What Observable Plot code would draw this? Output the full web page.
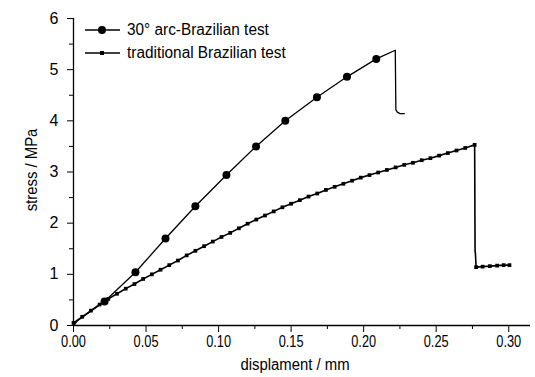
<!DOCTYPE html>
<html>
<head>
<meta charset="utf-8">
<script src="https://cdn.jsdelivr.net/npm/d3@7"></script>
<script src="https://cdn.jsdelivr.net/npm/@observablehq/plot@0.6"></script>
<style>
  html, body { margin: 0; padding: 0; background: #fff; }
  #wrap { position: relative; width: 535px; height: 377px; font-family: "Liberation Sans", Arial, sans-serif; }
  #legend { position: absolute; left: 84px; top: 18px; font-size: 16px; color: #000; line-height: 23px; }
  #legend .row { display: flex; align-items: center; height: 23px; white-space: nowrap; }
  #legend svg { margin-right: 5px; }
  #legend span { display: inline-block; transform: scaleX(0.96); transform-origin: 0 50%; }
</style>
</head>
<body>
<div id="wrap"></div>
<script>
// 30° arc-Brazilian test: full curve (incl. post-peak drop)
const arcX = [0, 0.003, 0.0214, 0.0427, 0.0634, 0.084, 0.1054, 0.1258, 0.146, 0.1678, 0.1885, 0.2087, 0.2218, 0.2222, 0.2232, 0.2250, 0.2280];
const arcY = [0, 0.10, 0.47, 1.04, 1.70, 2.33, 2.94, 3.50, 4.00, 4.46, 4.86, 5.21, 5.38, 4.22, 4.17, 4.14, 4.14];
// indices of the circle markers in the arc series
const arcMarkIdx = [2, 3, 4, 5, 6, 7, 8, 9, 10, 11];

// traditional Brazilian test (dense samples, each marked)
const tradX = [0, 0.006, 0.012, 0.018, 0.024, 0.030, 0.036, 0.042, 0.048, 0.054,
  0.060, 0.066, 0.072, 0.078, 0.084, 0.090, 0.096, 0.102, 0.108, 0.114,
  0.120, 0.126, 0.132, 0.138, 0.144, 0.150, 0.156, 0.162, 0.168, 0.174,
  0.180, 0.186, 0.192, 0.198, 0.204, 0.210, 0.216, 0.222, 0.228, 0.234,
  0.240, 0.246, 0.252, 0.258, 0.264, 0.270, 0.2765];
const tradY = [0.05, 0.17, 0.29, 0.41, 0.52, 0.62, 0.72, 0.81, 0.91, 1.00,
  1.09, 1.18, 1.27, 1.37, 1.46, 1.55, 1.64, 1.73, 1.81, 1.90,
  1.99, 2.07, 2.15, 2.23, 2.31, 2.38, 2.45, 2.52, 2.58, 2.65,
  2.71, 2.77, 2.83, 2.89, 2.94, 2.99, 3.04, 3.09, 3.14, 3.18,
  3.23, 3.27, 3.32, 3.37, 3.42, 3.47, 3.53];
// post-failure drop of the traditional test
const tradDropX = [0.2765, 0.2768, 0.2770, 0.2775];
const tradDropY = [3.53, 1.43, 1.43, 1.14];
// residual tail (marked)
const tradTailX = [0.2775, 0.2820, 0.2870, 0.2920, 0.2965, 0.3005];
const tradTailY = [1.14, 1.15, 1.16, 1.17, 1.18, 1.18];

const xTicks = [0, 0.05, 0.10, 0.15, 0.20, 0.25, 0.30];
const xMinor = [0.025, 0.075, 0.125, 0.175, 0.225, 0.275];
const yTicks = [0, 1, 2, 3, 4, 5, 6];
const yMinor = [0.5, 1.5, 2.5, 3.5, 4.5, 5.5];

const labels = ["30\u00B0 arc-Brazilian test", "traditional Brazilian test"];
const xLabel = "displament / mm";
const yLabel = "stress / MPa";

const arc = arcX.map((x, i) => ({x, y: arcY[i]}));
const arcMarks = arcMarkIdx.map(i => arc[i]);
const trad = tradX.map((x, i) => ({x, y: tradY[i]}));
const tradDrop = tradDropX.map((x, i) => ({x, y: tradDropY[i]}));
const tradTail = tradTailX.map((x, i) => ({x, y: tradTailY[i]}));
const tradLine = trad.concat(tradDrop.slice(1), tradTail.slice(1));

const font = '"Liberation Sans", Arial, sans-serif';

const chart = Plot.plot({
  width: 535,
  height: 377,
  marginLeft: 73,
  marginRight: 5,
  marginTop: 18,
  marginBottom: 52,
  style: {fontFamily: font, fontSize: "16px", color: "#000", background: "#fff"},
  x: {domain: [0, 0.315]},
  y: {domain: [0, 6]},
  marks: [
    Plot.axisX({ticks: xTicks, tickSize: 7, tickPadding: 3, tickFormat: d3.format(".2f"), label: null, fontSize: 16, className: "xticks"}),
    Plot.axisX({ticks: xMinor, tickSize: 4, tickFormat: () => "", label: null}),
    Plot.axisY({ticks: yTicks, tickSize: 6, tickPadding: 9, tickFormat: d3.format("d"), label: null, fontSize: 16}),
    Plot.axisY({ticks: yMinor, tickSize: 4, tickFormat: () => "", label: null}),
    Plot.ruleY([0], {stroke: "#000", strokeWidth: 1.3}),
    Plot.ruleX([0], {stroke: "#000", strokeWidth: 1.3}),
    Plot.line(tradLine, {x: "x", y: "y", stroke: "#000", strokeWidth: 1.6}),
    Plot.dot(trad.concat(tradTail), {x: "x", y: "y", symbol: "square", r: 2.1, fill: "#000", stroke: "none"}),
    Plot.line(arc, {x: "x", y: "y", stroke: "#000", strokeWidth: 1.3}),
    Plot.dot(arcMarks, {x: "x", y: "y", r: 4, fill: "#000", stroke: "none"})
  ]
});

const svg = d3.select(chart);
const xl = svg.append("text")
  .attr("x", 295).attr("y", 370)
  .attr("text-anchor", "middle")
  .style("font-family", font).style("font-size", "16px")
  .text(xLabel);
const yl = svg.append("text")
  .attr("transform", "translate(37,170) rotate(-90)")
  .attr("text-anchor", "middle")
  .style("font-family", font).style("font-size", "16px")
  .text(yLabel);

const wrap = document.getElementById("wrap");
wrap.appendChild(chart);

// horizontally condense texts to mimic the narrow face of the reference
function condense(sel, k) {
  sel.each(function() {
    const w = this.getComputedTextLength();
    if (w > 0) {
      this.setAttribute("textLength", (w * k).toFixed(2));
      this.setAttribute("lengthAdjust", "spacingAndGlyphs");
    }
  });
}
condense(svg.selectAll("g.xticks text"), 0.8);
condense(xl, 0.93);
condense(yl, 0.93);

const legend = document.createElement("div");
legend.id = "legend";
const syms = [
  '<svg width="38" height="10"><line x1="1" y1="5" x2="36" y2="5" stroke="#000" stroke-width="1.3"/><circle cx="18" cy="5" r="4" fill="#000"/></svg>',
  '<svg width="38" height="10"><line x1="1" y1="5" x2="36" y2="5" stroke="#000" stroke-width="1.3"/><rect x="16" y="3" width="4" height="4" fill="#000"/></svg>'
];
labels.forEach((t, i) => {
  const row = document.createElement("div");
  row.className = "row";
  row.innerHTML = syms[i] + "<span>" + t + "</span>";
  legend.appendChild(row);
});
wrap.appendChild(legend);
</script>
</body>
</html>
